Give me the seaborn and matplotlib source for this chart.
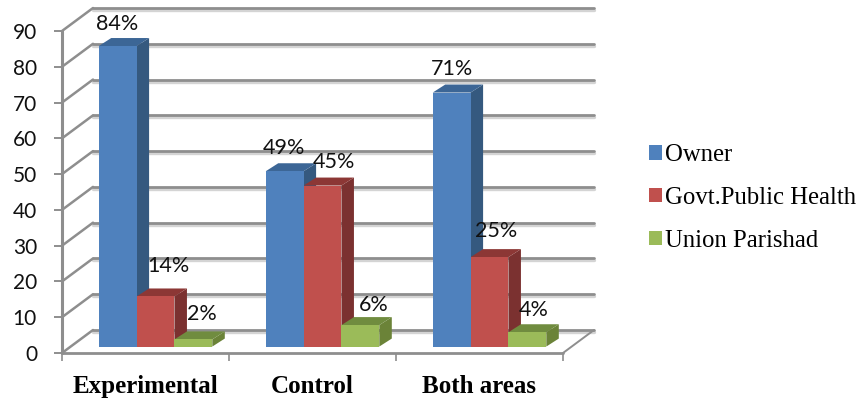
import matplotlib
matplotlib.use("Agg")
import matplotlib.pyplot as plt
from matplotlib.patches import Polygon
import pandas as pd
import seaborn as sns

areas = ["Experimental", "Control", "Both areas"]
owner = [84, 49, 71]
public_health = [14, 45, 25]
union_parishad = [2, 6, 4]
series_names = ["Owner", "Govt.Public Health", "Union Parishad"]
y_ticks = list(range(0, 100, 10))

front_colors = ["#4f81bd", "#c0504d", "#9bbb59"]
side_colors = ["#35597f", "#7b3130", "#6b8338"]
top_colors = ["#3c6696", "#8c3735", "#708c3f"]
grid_color = "#8e8e8e"
grid_shadow = "#d4d4d4"

# Label nudges in pixels, per series then per area
label_nudges = [[(-1, 22), (-1, 23), (0, 24)],
                [(13, 30), (11, 24), (7, 26)],
                [(9, 25), (13, 20), (6, 22)]]

table = pd.DataFrame({
    "area": areas * 3,
    "source": [n for n in series_names for _ in areas],
    "value": owner + public_health + union_parishad,
})

sns.set_theme(style="white")
fig = plt.figure(figsize=(8.6, 3.98), dpi=100)
ax = fig.add_axes([62 / 860, 45 / 398, 501 / 860, 322 / 398])

sns.barplot(data=table, x="area", y="value", hue="source", order=areas,
            hue_order=series_names, palette=front_colors, width=0.68,
            saturation=1, ax=ax, zorder=4, linewidth=0)
ax.set_xlim(-0.5, 2.5)
ax.set_ylim(0, 90)
ax.set_xlabel("")
ax.set_ylabel("")
for spine in ax.spines.values():
    spine.set_visible(False)

# Bars sit slightly behind the front edge of the floor
floor_lift = 1.8
bar_shift = 0.06
wall_dx, wall_dy = 31 / 167, 23 / 3.578
bar_dx, bar_dy = 12.5 / 167, 8 / 3.578
x0, x1 = ax.get_xlim()

# Back wall, side wall and floor lines
for tick in y_ticks:
    for colour, width, drop in ((grid_shadow, 2.4, 0.55), (grid_color, 2.0, 0)):
        ax.plot([x0 + wall_dx, x1 + wall_dx], [tick + wall_dy - drop] * 2,
                color=colour, lw=width, clip_on=False, zorder=1,
                solid_capstyle="round")
    ax.plot([x0, x0 + wall_dx], [tick, tick + wall_dy], color=grid_color,
            lw=1.8, clip_on=False, zorder=1)
ax.plot([x0, x0], [0, 90], color=grid_color, lw=2.2, clip_on=False, zorder=2)
ax.plot([x0, x1], [0, 0], color=grid_color, lw=2.0, clip_on=False, zorder=2)
ax.plot([x1, x1 + wall_dx], [0, wall_dy], color=grid_color, lw=1.4,
        clip_on=False, zorder=1)

# Extruded sides and tops, and the value labels
for s, container in enumerate(ax.containers):
    for a, bar in enumerate(container):
        bar.set_x(bar.get_x() + bar_shift)
        bar.set_y(bar.get_y() + floor_lift)
        left, right = bar.get_x(), bar.get_x() + bar.get_width()
        low, high = bar.get_y(), bar.get_y() + bar.get_height()
        ax.add_patch(Polygon([(right, low), (right + bar_dx, low + bar_dy),
                              (right + bar_dx, high + bar_dy), (right, high)],
                             facecolor=side_colors[s], edgecolor="none",
                             zorder=3, clip_on=False))
        ax.add_patch(Polygon([(left, high), (left + bar_dx, high + bar_dy),
                              (right + bar_dx, high + bar_dy), (right, high)],
                             facecolor=top_colors[s], edgecolor="none",
                             zorder=3, clip_on=False))
        ax.annotate(f"{int(bar.get_height())}%",
                    ((left + right) / 2, high),
                    xytext=(label_nudges[s][a][0] * 0.72, label_nudges[s][a][1] * 0.72),
                    textcoords="offset points", ha="center", va="center",
                    fontsize=15.5, family="Lato", color="#111111",
                    zorder=6, annotation_clip=False)

ax.set_yticks(y_ticks)
ax.set_xticks([-0.5, 0.5, 1.5, 2.5], labels=[])
ax.tick_params(axis="y", left=True, length=6, width=1.4, color=grid_color,
               pad=12, labelsize=15, labelcolor="#111111")
ax.tick_params(axis="x", bottom=True, length=6, width=1.2, color=grid_color)
for label in ax.get_yticklabels():
    label.set_family("Lato")

# Category names are placed under each group of bars
for i, name in enumerate(areas):
    ax.annotate(name, (i, 0), xytext=(0, -24),
                textcoords="offset points", ha="center", va="center",
                fontsize=18, fontweight="bold", family="Liberation Serif",
                color="black", annotation_clip=False)

sns.move_legend(ax, "center left", bbox_to_anchor=(649 / 860, 200 / 398),
                bbox_transform=fig.transFigure, title=None, frameon=False,
                prop={"family": "Liberation Serif", "size": 17.8},
                labelspacing=0.84, handlelength=0.52, handleheight=0.52,
                handletextpad=0.12, borderpad=0, borderaxespad=0,
                labelcolor="black")

fig.savefig("out.png", dpi=100)
